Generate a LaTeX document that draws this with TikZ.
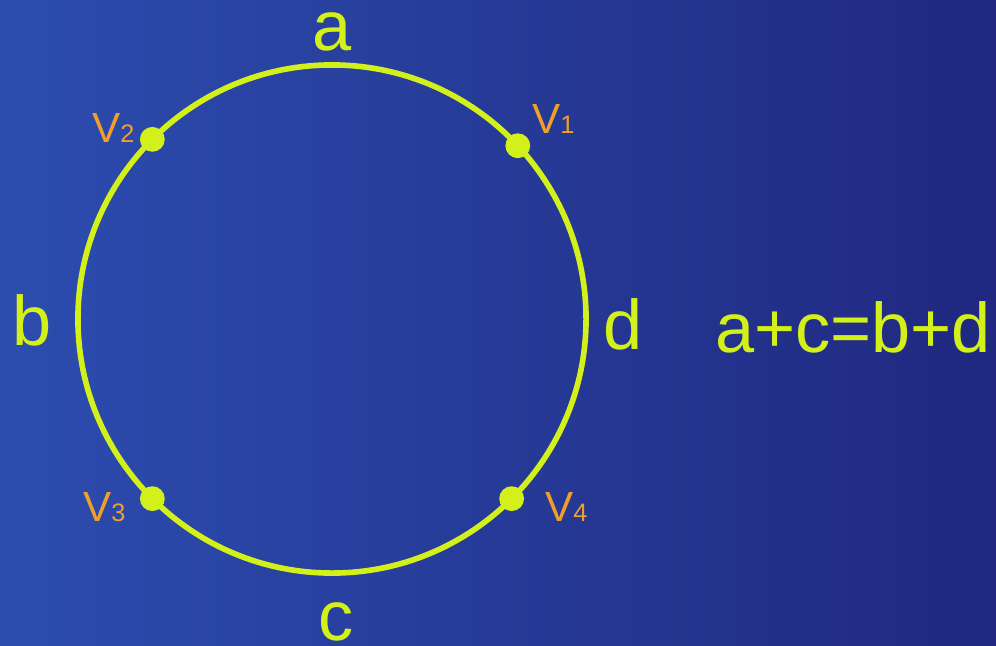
\documentclass[tikz,border=0pt]{standalone}
\usepackage{fontspec}
\setmainfont{Liberation Sans}
\usepackage{tikz}
\usepackage{xcolor}
\usetikzlibrary{positioning,calc}
\definecolor{BgLeft}{RGB}{44,77,175}
\definecolor{BgRight}{RGB}{32,40,128}
\definecolor{Lime}{RGB}{212,240,26}
\definecolor{Amber}{RGB}{240,160,40}

\begin{document}
\begin{tikzpicture}[x=0.025cm, y=-0.025cm, every node/.style={text=Lime, font=\fontsize{50}{54}\selectfont, inner sep=0pt}]
\shade[left color=BgLeft, right color=BgRight] (0,0) rectangle (996,646);
\useasboundingbox (0,0) rectangle (996,646);
\node[draw=Lime, line width=4pt, circle, minimum size=12.7cm, outer sep=0pt] (ring) at (332,319) {};

\fill[Lime] (ring.43) circle (0.31cm) coordinate (v1);
\fill[Lime] (ring.135) circle (0.31cm) coordinate (v2);
\fill[Lime] (ring.225) circle (0.31cm) coordinate (v3);
\fill[Lime] (ring.315) circle (0.31cm) coordinate (v4);

\node[anchor=base west, text=Amber, font=\fontsize{30}{32}\selectfont] (lv1) at (532,133) {V{\fontsize{18}{20}\selectfont 1}};
\node[anchor=base west, text=Amber, font=\fontsize{30}{32}\selectfont] (lv2) at (92,142) {V{\fontsize{18}{20}\selectfont 2}};
\node[anchor=base west, text=Amber, font=\fontsize{30}{32}\selectfont] (lv3) at (83,521) {V{\fontsize{18}{20}\selectfont 3}};
\node[anchor=base west, text=Amber, font=\fontsize{30}{32}\selectfont] (lv4) at (545,521) {V{\fontsize{18}{20}\selectfont 4}};

\node[anchor=base] (la) at (332,50) {a};
\node[anchor=base] (lb) at (32,345) {b};
\node[anchor=base] (lc) at (336,640) {c};
\node[anchor=base] (ld) at (623,349) {d};

\node[anchor=base] (eq) at (853,352) {a+c=b+d};
\end{tikzpicture}
\end{document}
